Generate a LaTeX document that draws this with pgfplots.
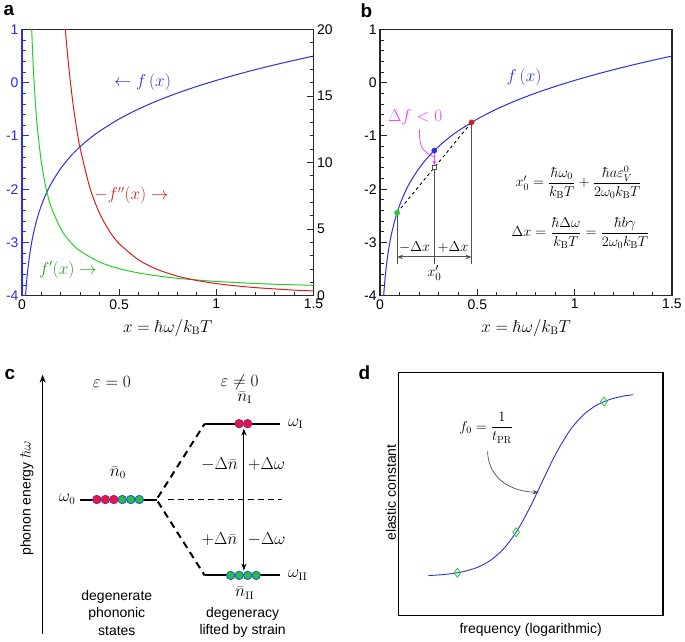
\documentclass[border=0pt]{standalone}
\usepackage{amsmath}
\usepackage{pgfplots}
\pgfplotsset{compat=1.18}
\usepackage[no-math]{fontspec}
\setmainfont{Liberation Sans}
\usetikzlibrary{arrows.meta}
\definecolor{cblue}{RGB}{45,45,225}
\definecolor{cred}{RGB}{215,30,30}
\definecolor{cgreen}{RGB}{40,205,40}
\definecolor{dgreen}{RGB}{40,150,40}
\definecolor{cmag}{RGB}{240,70,240}
\definecolor{axgray}{RGB}{40,40,40}
\definecolor{lgray}{RGB}{80,80,80}
\definecolor{cpurple}{RGB}{130,40,160}
\definecolor{credc}{RGB}{235,20,60}
\definecolor{cgreenc}{RGB}{40,190,70}
\definecolor{cbluec}{RGB}{40,90,210}
\newcommand{\fs}[1]{\fontsize{#1}{#1}\selectfont}
\begin{document}
\begin{tikzpicture}
\path (0pt,0pt) rectangle (685pt,640pt);
\pgfplotsset{
  panel/.style={scale only axis, anchor=south west, clip mode=individual,
    tick align=inside, major tick length=7pt, minor tick length=4pt,
    tick label style={font=\fs{14}}, /pgf/number format/assume math mode=true,
    axis line style={axgray, line width=1.3pt}, tick style={axgray, line width=0.8pt}},
}
% ---------- panel a ----------
\node[font=\bfseries\fs{19}] at (9pt,630pt) {a};
\begin{axis}[panel, at={(22pt,344pt)}, width=292pt, height=267pt,
  xmin=0, xmax=1.5, ymin=-4, ymax=1,
  axis x line*=bottom, axis y line*=left,
  xtick={0,0.5,1,1.5}, minor x tick num=4,
  ytick={-4,-3,-2,-1,0,1}, minor y tick num=4,
  y axis line style={cblue, line width=1.3pt},
  ytick style={cblue}, yticklabel style={cblue}]
\addplot[cblue, line width=1pt, smooth] coordinates {(0.0183,-4.0)(0.02,-3.912)(0.025,-3.689)(0.03,-3.507)(0.04,-3.219)(0.05,-2.996)(0.06,-2.813)(0.08,-2.526)(0.1,-2.302)(0.125,-2.079)(0.15,-1.896)(0.2,-1.608)(0.25,-1.384)(0.3,-1.200)(0.35,-1.045)(0.4,-0.910)(0.5,-0.683)(0.6,-0.496)(0.7,-0.336)(0.8,-0.197)(0.9,-0.072)(1.0,0.041)(1.1,0.145)(1.2,0.242)(1.3,0.332)(1.4,0.417)(1.5,0.498)};
\node[cblue, font=\fs{16}] at (axis cs:0.62,0.0) {$\leftarrow f\,(x)$};
\node[cred, font=\fs{16}] at (axis cs:0.563,-2.11) {$-f''(x)\rightarrow$};
\node[dgreen, font=\fs{16}] at (axis cs:0.236,-3.51) {$f'(x)\rightarrow$};
\node[font=\fs{16}] at (axis cs:0.75,-4.6) {$x=\hbar\omega/k_{\mathrm B}T$};
\end{axis}
\begin{axis}[panel, at={(22pt,344pt)}, width=292pt, height=267pt,
  xmin=0, xmax=1.5, ymin=0, ymax=20,
  axis x line*=top, axis y line*=right, xtick=\empty,
  ytick={0,5,10,15,20}, minor y tick num=4]
\addplot[cgreen, line width=1pt, smooth] coordinates {(0.05,20.0)(0.055,18.19)(0.06,16.67)(0.07,14.29)(0.08,12.51)(0.1,10.01)(0.125,8.01)(0.15,6.68)(0.2,5.02)(0.25,4.02)(0.3,3.36)(0.4,2.53)(0.5,2.04)(0.6,1.72)(0.7,1.49)(0.8,1.32)(0.9,1.19)(1.0,1.08)(1.1,1.00)(1.2,0.93)(1.3,0.87)(1.4,0.83)(1.5,0.79)};
\addplot[cred, line width=1pt, smooth] coordinates {(0.223,20.0)(0.23,18.82)(0.24,17.28)(0.26,14.71)(0.28,12.67)(0.3,11.03)(0.35,8.08)(0.4,6.17)(0.45,4.86)(0.5,3.92)(0.6,2.70)(0.7,1.96)(0.8,1.48)(0.9,1.15)(1.0,0.92)(1.1,0.75)(1.2,0.62)(1.3,0.52)(1.4,0.43)(1.5,0.37)};
\end{axis}
% ---------- panel b ----------
\node[font=\bfseries\fs{19}] at (367pt,630pt) {b};
\begin{axis}[panel, at={(380.7pt,344pt)}, width=292.3pt, height=267pt,
  xmin=0, xmax=1.5, ymin=-4, ymax=1,
  xtick pos=bottom, ytick pos=left,
  xtick={0,0.5,1,1.5}, minor x tick num=4,
  ytick={-4,-3,-2,-1,0,1}, minor y tick num=4]
\addplot[cblue, line width=1pt, smooth] coordinates {(0.0183,-4.0)(0.02,-3.912)(0.025,-3.689)(0.03,-3.507)(0.04,-3.219)(0.05,-2.996)(0.06,-2.813)(0.08,-2.526)(0.1,-2.302)(0.125,-2.079)(0.15,-1.896)(0.2,-1.608)(0.25,-1.384)(0.3,-1.200)(0.35,-1.045)(0.4,-0.910)(0.5,-0.683)(0.6,-0.496)(0.7,-0.336)(0.8,-0.197)(0.9,-0.072)(1.0,0.041)(1.1,0.145)(1.2,0.242)(1.3,0.332)(1.4,0.417)(1.5,0.498)};
\addplot[black, dashed, line width=0.9pt] coordinates {(0.087,-2.442)(0.47,-0.746)};
\addplot[lgray, line width=1pt] coordinates {(0.087,-2.442)(0.087,-3.4)};
\addplot[lgray, line width=1pt] coordinates {(0.2785,-1.594)(0.2785,-3.4)};
\addplot[lgray, line width=1pt] coordinates {(0.47,-0.746)(0.47,-3.4)};
\addplot[lgray, line width=1pt, {Stealth[length=6pt]}-{Stealth[length=6pt]}] coordinates {(0.087,-3.27)(0.47,-3.27)};
\addplot[cmag, line width=1pt, -{Stealth[length=5pt]}] coordinates {(0.2785,-1.29)(0.2785,-1.56)};
\addplot[cmag, line width=0.8pt, smooth] coordinates {(0.202,-0.88)(0.204,-1.06)(0.215,-1.22)(0.245,-1.33)(0.275,-1.39)};
\addplot[only marks, mark=*, mark size=2.6pt, cgreen] coordinates {(0.087,-2.442)};
\addplot[only marks, mark=*, mark size=2.6pt, cred] coordinates {(0.47,-0.746)};
\addplot[only marks, mark=*, mark size=2.6pt, cblue] coordinates {(0.2785,-1.275)};
\addplot[only marks, mark=square*, mark size=2.2pt, mark options={fill=white, draw=lgray, line width=0.7pt}] coordinates {(0.2785,-1.594)};
\node[cblue, font=\fs{16}] at (axis cs:0.74,0.10) {$f\,(x)$};
\node[cmag, font=\fs{16}] at (axis cs:0.18,-0.64) {$\Delta f<0$};
\node[font=\fs{14}] at (axis cs:1.02,-1.87) {$x_0'=\dfrac{\hbar\omega_0}{k_{\mathrm B}T}+\dfrac{\hbar a\varepsilon_V^0}{2\omega_0k_{\mathrm B}T}$};
\node[font=\fs{14}] at (axis cs:1.03,-2.82) {$\Delta x=\dfrac{\hbar\Delta\omega}{k_{\mathrm B}T}=\dfrac{\hbar b\gamma}{2\omega_0k_{\mathrm B}T}$};
\node[font=\fs{15}] at (axis cs:0.177,-3.08) {$-\Delta x$};
\node[font=\fs{15}] at (axis cs:0.375,-3.08) {$+\Delta x$};
\node[font=\fs{15}] at (axis cs:0.2785,-3.57) {$x_0'$};
\node[font=\fs{16}] at (axis cs:0.75,-4.6) {$x=\hbar\omega/k_{\mathrm B}T$};
\end{axis}
% ---------- panel c ----------
\node[font=\bfseries\fs{19}] at (10pt,265pt) {c};
\begin{axis}[at={(0pt,0pt)}, anchor=south west, scale only axis, width=345pt, height=320pt,
  xmin=0, xmax=345, ymin=0, ymax=320, hide axis, clip=false]
\addplot[black, line width=0.9pt, -{Stealth[length=8pt]}] coordinates {(42.7,5)(42.7,265)};
\addplot[black, line width=2pt] coordinates {(80,140)(157,140)};
\addplot[black, line width=2pt] coordinates {(205,216)(280,216)};
\addplot[black, line width=2pt] coordinates {(205,64)(280,64)};
\addplot[black, line width=2pt, dash pattern=on 7pt off 5pt] coordinates {(158,142)(205,216)};
\addplot[black, line width=2pt, dash pattern=on 7pt off 5pt] coordinates {(158,138)(205,64)};
\addplot[black, line width=0.8pt, dash pattern=on 6pt off 4pt] coordinates {(168,140)(282,140)};
\addplot[black, line width=0.9pt, {Stealth[length=7pt]}-{Stealth[length=7pt]}] coordinates {(244.3,211)(244.3,69)};
\addplot[only marks, mark=*, mark size=4.2pt, mark options={fill=credc, draw=cpurple, line width=0.9pt}] coordinates {(97,140)(105.5,140)(114,140)(239.5,216)(248,216)};
\addplot[only marks, mark=*, mark size=4.2pt, mark options={fill=cgreenc, draw=cbluec, line width=0.9pt}] coordinates {(122.5,140)(131,140)(139.5,140)(231,64)(239.5,64)(248,64)(256.5,64)};
\node[rotate=90, font=\fs{14}] at (axis cs:27,141) {phonon energy $\hbar\omega$};
\node[font=\fs{16}] at (axis cs:112,258) {$\varepsilon=0$};
\node[font=\fs{16}] at (axis cs:240,258) {$\varepsilon\neq0$};
\node[font=\fs{16}, anchor=east] at (axis cs:79,140) {$\omega_0$};
\node[font=\fs{16}, anchor=west] at (axis cs:285,216) {$\omega_{\mathrm I}$};
\node[font=\fs{16}, anchor=west] at (axis cs:285,64) {$\omega_{\mathrm{II}}$};
\node[font=\fs{16}] at (axis cs:118,167) {$\bar n_0$};
\node[font=\fs{16}] at (axis cs:245,242) {$\bar n_{\mathrm I}$};
\node[font=\fs{16}] at (axis cs:245,46) {$\bar n_{\mathrm{II}}$};
\node[font=\fs{16}] at (axis cs:220,175) {$-\Delta\bar n$};
\node[font=\fs{16}] at (axis cs:267,175) {$+\Delta\omega$};
\node[font=\fs{16}] at (axis cs:220,100) {$+\Delta\bar n$};
\node[font=\fs{16}] at (axis cs:267,100) {$-\Delta\omega$};
\node[font=\fs{14}] at (axis cs:117,42) {degenerate};
\node[font=\fs{14}] at (axis cs:117,25) {phononic};
\node[font=\fs{14}] at (axis cs:117,8) {states};
\node[font=\fs{14}] at (axis cs:243,25) {degeneracy};
\node[font=\fs{14}] at (axis cs:243,8) {lifted by strain};
\end{axis}
% ---------- panel d ----------
\node[font=\bfseries\fs{19}] at (365pt,267pt) {d};
\begin{axis}[at={(399pt,24pt)}, anchor=south west, scale only axis, width=265pt, height=243pt,
  xmin=0, xmax=10, ymin=0, ymax=10, xtick=\empty, ytick=\empty, clip mode=individual,
  axis line style={black, line width=1.3pt}]
\addplot[cblue, line width=0.9pt, smooth] coordinates {(1.13,1.641)(1.5,1.664)(2.0,1.717)(2.5,1.814)(3.0,1.986)(3.5,2.282)(4.0,2.771)(4.5,3.511)(5.0,4.509)(5.5,5.656)(6.0,6.758)(6.5,7.648)(7.0,8.273)(7.5,8.668)(8.0,8.902)(8.5,9.036)(8.87,9.094)};
\addplot[only marks, mark=diamond, mark size=4.5pt, mark options={draw=cgreen, line width=0.8pt, fill=white}] coordinates {(2.23,1.755)(4.45,3.425)(7.77,8.810)};
\draw[lgray, line width=0.7pt, -{Stealth[length=6pt]}] (axis cs:3.37,6.76) .. controls (axis cs:3.4,5.6) and (axis cs:4.3,5.1) .. (axis cs:5.3,5.07);
\node[font=\fs{14}] at (axis cs:3.32,7.74) {$f_0=\dfrac{1}{t_{\mathrm{PR}}}$};
\node[font=\fs{14}] at (axis cs:5,-0.58) {frequency (logarithmic)};
\node[font=\fs{14}, rotate=90] at (axis cs:-0.28,5.06) {elastic constant};
\end{axis}
\end{tikzpicture}
\end{document}
